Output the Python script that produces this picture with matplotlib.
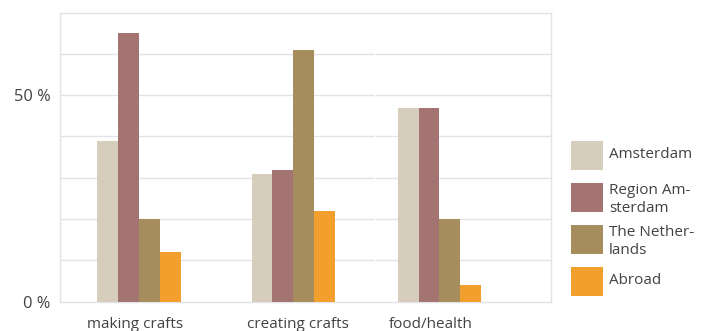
import matplotlib
matplotlib.use("Agg")
import matplotlib.pyplot as plt
from matplotlib.patches import Rectangle

# Share of respondents per activity type, by origin
categories = ["making crafts", "creating crafts", "food/health"]
series_names = ["Amsterdam", "Region Am-\nsterdam", "The Nether-\nlands", "Abroad"]
amsterdam = [39, 31, 47]
region_amsterdam = [65, 32, 47]
netherlands = [20, 61, 20]
abroad = [12, 22, 4]
y_ticks = [0, 50]
y_tick_labels = ["0 %", "50 %"]

series = [amsterdam, region_amsterdam, netherlands, abroad]
colors = ["#D7CDBC", "#A47472", "#A68D5E", "#F29F2E"]

plt.rcParams["font.family"] = ["Open Sans", "DejaVu Sans"]
text_color = "#424242"
grid_color = "#E2E3E8"
fs = 11.0

fig = plt.figure(figsize=(7.10, 3.31), dpi=100)
ax = fig.add_axes([0.0845, 0.0885, 0.6915, 0.8737])

# layout in bar-width units
bar_w = 1.0
group_centers = [3.775, 11.17, 18.16]
label_centers = [3.59, 11.39, 17.73]

for i, (vals, col) in enumerate(zip(series, colors)):
    xs = [c + (i - 1.5) * bar_w for c in group_centers]
    ax.bar(xs, vals, width=bar_w, color=col, zorder=3, linewidth=0)

ax.set_xlim(0, 23.5)
ax.set_ylim(0, 70)

# horizontal grid every 10 %
for g in range(10, 70, 10):
    ax.axhline(g, color=grid_color, linewidth=1.0, zorder=1)
# thin break in the grid between the panel halves
ax.axvline(15.07, color="white", linewidth=0.8, zorder=2)

for sp in ax.spines.values():
    sp.set_color(grid_color)
    sp.set_linewidth(1.0)

ax.set_yticks(y_ticks)
ax.set_yticklabels(y_tick_labels, color=text_color, fontsize=11.8)
ax.set_xticks(label_centers)
ax.set_xticklabels(categories, color=text_color, fontsize=fs)
ax.tick_params(axis="both", length=0)
ax.tick_params(axis="y", pad=7)
ax.tick_params(axis="x", pad=11)

# legend drawn as swatches with wrapped labels
W, H = 710.0, 331.0
swatch_tops = [141, 183, 225, 267]
for name, col, top in zip(series_names, colors, swatch_tops):
    fig.patches.append(Rectangle((571 / W, 1 - (top + 29) / H), 32 / W, 29 / H,
                                 transform=fig.transFigure, color=col, linewidth=0))
    y_mid = top + (16.5 if "\n" in name else 13.5)
    fig.text(609 / W, 1 - y_mid / H, name, color=text_color, fontsize=fs,
             va="center", ha="left", linespacing=1.2)

fig.savefig("out.png", dpi=100)
